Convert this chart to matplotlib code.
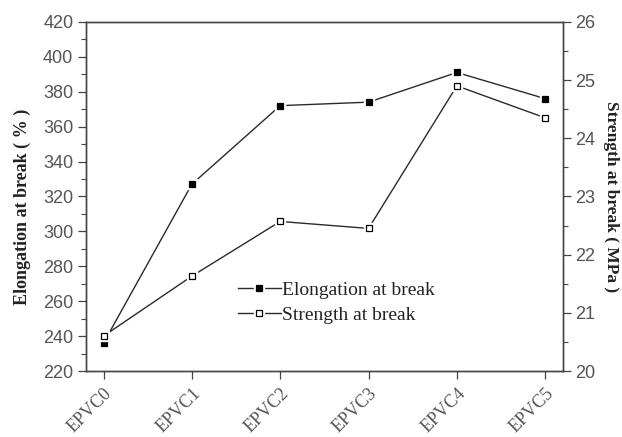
import numpy as np
import matplotlib.pyplot as plt
from matplotlib.ticker import MultipleLocator
from matplotlib.legend_handler import HandlerTuple

# Samples and measured mechanical properties
samples = ['EPVC0', 'EPVC1', 'EPVC2', 'EPVC3', 'EPVC4', 'EPVC5']
elongation = [236, 327, 372, 374, 391, 376]          # %
strength = [20.6, 21.63, 22.57, 22.45, 24.9, 24.35]  # MPa

axis_col = '#444444'
tick_col = '#555555'
line_col = '#2a2a2a'
serif = ['Liberation Serif', 'DejaVu Serif']
sans = ['Liberation Sans', 'DejaVu Sans']

fig = plt.figure(figsize=(6.22, 4.37), dpi=100)
ax = fig.add_axes([0.138, 0.151, 0.767, 0.799])
ax2 = ax.twinx()

x = np.arange(len(samples))


def series(a, y, face, size):
    # line, a white pad under each marker so the line stops short, then the marker
    ln, = a.plot(x, y, color=line_col, lw=1.0)
    pad, = a.plot(x, y, ls='none', marker='s', ms=size + 3, mfc='white', mec='white')
    mk, = a.plot(x, y, ls='none', marker='s', ms=size, mfc=face, mec='black', mew=0.9)
    return ln, pad, mk


h1 = series(ax, elongation, 'black', 4.6)
h2 = series(ax2, strength, 'white', 4.0)

ax.set_xlim(-0.2, 5.2)
ax.set_ylim(220, 420)
ax2.set_ylim(20, 26)
ax.yaxis.set_major_locator(MultipleLocator(20))
ax.yaxis.set_minor_locator(MultipleLocator(10))
ax2.yaxis.set_major_locator(MultipleLocator(1))
ax2.yaxis.set_minor_locator(MultipleLocator(0.5))

ax.set_xticks(x)
ax.set_xticklabels(samples, rotation=45, ha='right', va='top',
                   rotation_mode='anchor', family=serif, fontsize=14,
                   color=tick_col)

for a in (ax, ax2):
    for s in a.spines.values():
        s.set_color(axis_col)
        s.set_linewidth(1.0)
    a.tick_params(which='major', length=6, color=axis_col, width=0.9,
                  labelcolor=tick_col, labelsize=13, pad=3)
    a.tick_params(which='minor', length=3.5, color=axis_col, width=0.8)
ax.tick_params(axis='x', which='minor', bottom=False)
ax.tick_params(axis='x', pad=4)

for lab in ax.get_yticklabels() + ax2.get_yticklabels():
    lab.set_family(sans)

ax.set_ylabel('Elongation at break ( % )', family=serif, fontweight='bold',
              fontsize=13, color='#222222', labelpad=6)
ax.yaxis.set_label_coords(-0.115, 0.47)
ax2.set_ylabel('Strength at break ( MPa )', family=serif, fontweight='bold',
               fontsize=12.5, color='#222222', rotation=270, labelpad=17)

leg = ax.legend(handles=[h1, h2],
                labels=['Elongation at break', 'Strength at break'],
                handler_map={tuple: HandlerTuple(ndivide=1)},
                loc='upper left', bbox_to_anchor=(0.29, 0.295), frameon=False,
                prop={'family': serif, 'size': 14}, handlelength=2.2,
                handletextpad=0.05, labelspacing=0.35, borderpad=0.2)
for t in leg.get_texts():
    t.set_color('#222222')

fig.savefig('out.png', dpi=100)
